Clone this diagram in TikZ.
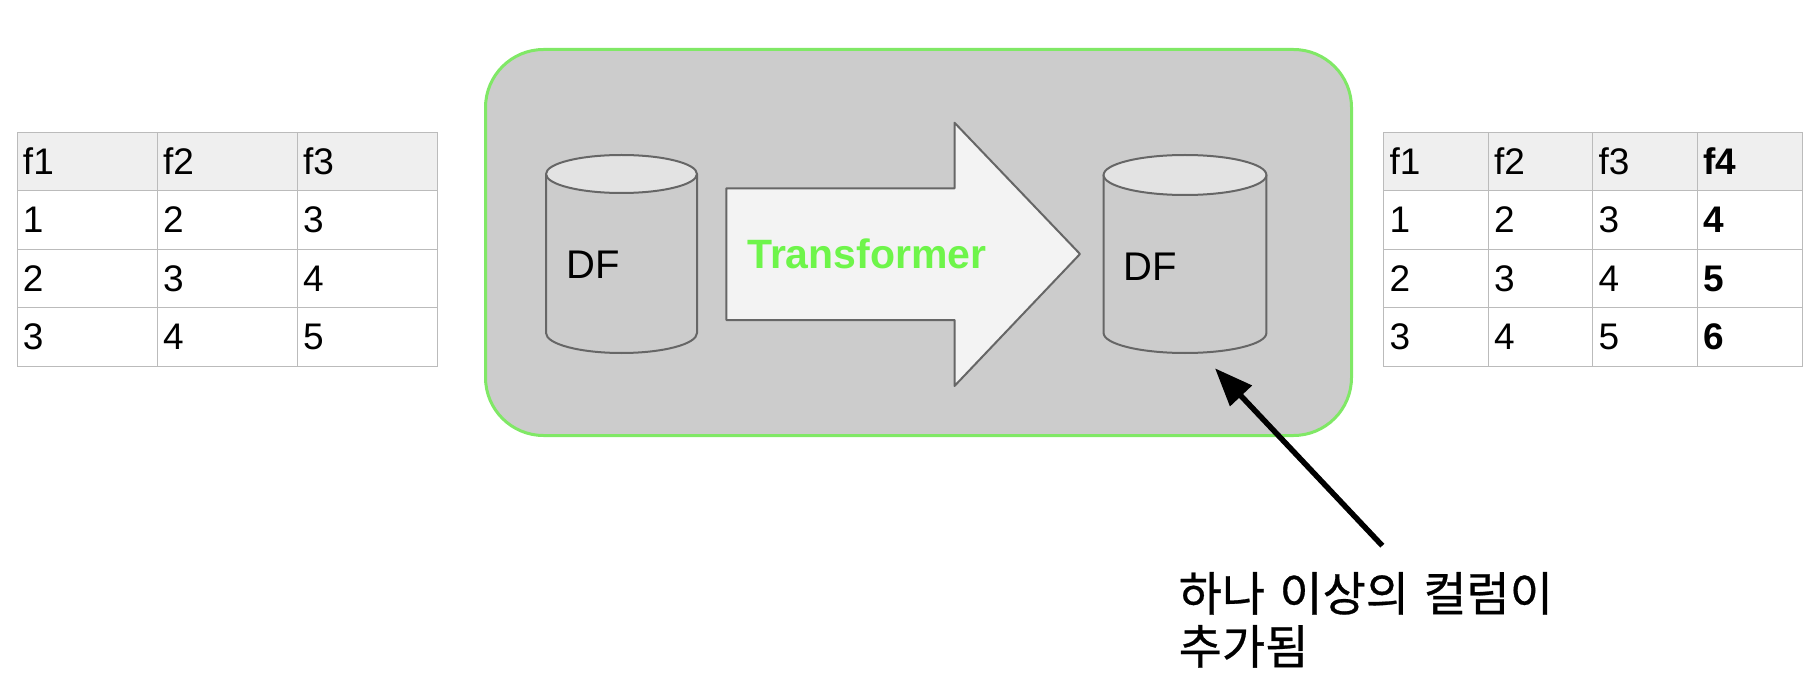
\documentclass[tikz,border=0pt]{standalone}
\usepackage{fontspec}
\setmainfont{Liberation Sans}
\newfontfamily\krfont[WordSpace=1.35,FakeBold=0.6]{Noto Sans CJK KR}
\usetikzlibrary{arrows.meta}
\definecolor{panelfill}{HTML}{CCCCCC}
\definecolor{panelline}{HTML}{80E866}
\definecolor{headfill}{HTML}{EFEFEF}
\definecolor{gridline}{HTML}{BBBBBB}
\definecolor{shapeline}{HTML}{666666}
\definecolor{canlid}{HTML}{E3E3E3}
\definecolor{arrowfill}{HTML}{F3F3F3}
\definecolor{transgreen}{HTML}{6EF54A}
\tikzset{
  x=1pt,y=-1pt,
  panelbox/.style={draw=panelline,fill=panelfill,line width=3pt,rounded corners=58pt,
    minimum width=866pt,minimum height=386pt,inner sep=0pt,outer sep=0pt},
  grid/.style={draw=gridline,line width=1pt},
  cell/.style={anchor=base west,inner sep=0pt,outer sep=0pt,font=\fontsize{37}{40}\selectfont},
  boldcell/.style={cell,font=\fontsize{37}{40}\selectfont\bfseries},
  dflabel/.style={anchor=base west,inner sep=0pt,font=\fontsize{40}{44}\selectfont},
  shapestroke/.style={draw=shapeline,line width=2pt,line join=round},
  pointer/.style={line width=5.5pt,draw=black,-{Triangle[length=38pt,width=29pt]}},
}
\newcommand{\cancyl}[6]{% left, right, top of lid, lid ry, side end, ry bottom
  \pgfmathsetmacro{\rxx}{(#2-#1)/2}
  \pgfmathsetmacro{\cyy}{#3+#4}
  \fill[panelfill] (#1,\cyy) -- (#1,#5) arc[start angle=180,end angle=360,x radius=\rxx pt,y radius=#6 pt] -- (#2,\cyy) -- cycle;
  \draw[shapestroke] (#1,\cyy) -- (#1,#5) arc[start angle=180,end angle=360,x radius=\rxx pt,y radius=#6 pt] -- (#2,\cyy);
  \filldraw[shapestroke,fill=canlid] (#1,\cyy) arc[start angle=180,end angle=540,x radius=\rxx pt,y radius=#4 pt];
}
\begin{document}
\begin{tikzpicture}
\useasboundingbox (0,0) rectangle (1820,676);
% panel
\node[panelbox] (panel) at (918.5,242.5) {};
% left table
\fill[headfill] (17.5,132.5) rectangle (437.5,191);
\draw[grid] (17.5,132.5) rectangle (437.5,366);
\foreach \yy in {191,249.5,307.5} \draw[grid] (17.5,\yy) -- (437.5,\yy);
\foreach \xx in {157.5,297.5} \draw[grid] (\xx,132.5) -- (\xx,366);
\foreach \tx/\nm/\a/\b/\c/\d in {23/a/f1/1/2/3,163/b/f2/2/3/4,303/c/f3/3/4/5}{
  \node[cell] (l\nm0) at (\tx,175) {\a};
  \node[cell] (l\nm1) at (\tx,232.5) {\b};
  \node[cell] (l\nm2) at (\tx,291) {\c};
  \node[cell] (l\nm3) at (\tx,349.5) {\d};
}
% right table
\fill[headfill] (1383,132.5) rectangle (1802.5,191);
\draw[grid] (1383,132.5) rectangle (1802.5,366);
\foreach \yy in {191,249.5,307.5} \draw[grid] (1383,\yy) -- (1802.5,\yy);
\foreach \xx in {1488,1592.5,1697} \draw[grid] (\xx,132.5) -- (\xx,366);
\foreach \tx/\nm/\a/\b/\c/\d in {1389.5/a/f1/1/2/3,1494/b/f2/2/3/4,1598.5/c/f3/3/4/5}{
  \node[cell] (r\nm0) at (\tx,175) {\a};
  \node[cell] (r\nm1) at (\tx,232.5) {\b};
  \node[cell] (r\nm2) at (\tx,291) {\c};
  \node[cell] (r\nm3) at (\tx,349.5) {\d};
}
\node[boldcell] (rd0) at (1703.5,175) {f4};
\node[boldcell] (rd1) at (1703.5,232.5) {4};
\node[boldcell] (rd2) at (1703.5,291) {5};
\node[boldcell] (rd3) at (1703.5,349.5) {6};
% cylinders
\cancyl{546}{697}{155}{19}{333}{20}
\cancyl{1103.6}{1266.4}{155}{20}{333}{20}
\node[dflabel] (dfa) at (566.5,278.3) {DF};
\node[dflabel] (dfb) at (1123.5,280) {DF};
% block arrow
\filldraw[shapestroke,fill=arrowfill] (726.3,188.3) -- (954.5,188.3) -- (954.5,122.7) -- (1080,254) -- (954.5,386) -- (954.5,320) -- (726.3,320) -- cycle;
\node[anchor=base west,inner sep=0pt,text=transgreen,font=\fontsize{41}{46}\selectfont\bfseries] (trans) at (747,268.5) {Transformer};
% pointer and caption
\coordinate (tip) at (1215,368.3);
\coordinate (tail) at (1382.3,545.7);
\draw[pointer] (tail) -- (tip);
\node[anchor=base west,inner sep=0pt,align=left,font=\fontsize{47}{53}\selectfont\krfont] (caption) at (1178.5,664) {하나 이상의 컬럼이\\추가됨};
\end{tikzpicture}
\end{document}
